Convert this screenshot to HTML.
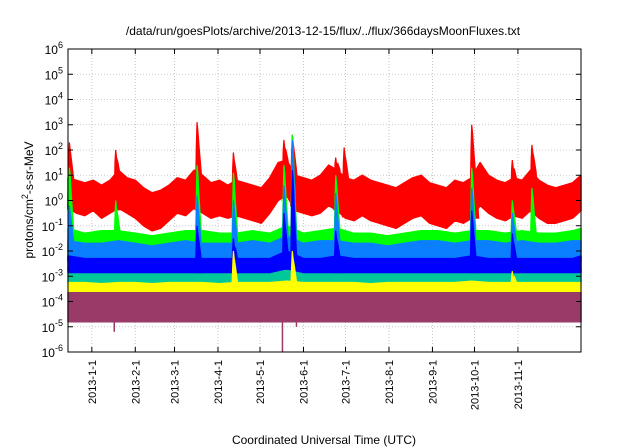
<!DOCTYPE html>
<html><head><meta charset="utf-8"><style>
html,body{margin:0;padding:0;background:#fff;}
svg{display:block;font-family:"Liberation Sans",sans-serif;}
</style></head><body>
<svg id="chart" width="640" height="448" viewBox="0 0 640 448" xmlns="http://www.w3.org/2000/svg">
<text x="323" y="35" font-size="12" text-anchor="middle" fill="#000">/data/run/goesPlots/archive/2013-12-15/flux/../flux/366daysMoonFluxes.txt</text>
<text x="324" y="444" font-size="12" text-anchor="middle" fill="#000">Coordinated Universal Time (UTC)</text>
<text transform="translate(33,200) rotate(-90)" font-size="12" text-anchor="middle" fill="#000">protons/cm<tspan dy="-5" font-size="9">2</tspan><tspan dy="5">-s-sr-MeV</tspan></text>
<g id="grid"></g><g id="series"></g><g id="axes"></g>
</svg>
<script>
const daysF=[-17,-11,-5,1,7,13,19,25,31,37,43,49,55,61,67,73,79,85,91,97,103,109,115,121,127,133,139,145,151,157,163,169,175,181,187,193,199,205,211,217,223,229,235,241,247,253,259,265,271,277,283,289,295,301,307,313,319,325,331,337,343,349];
const redHi=[0.9,0.8,0.7,0.8,0.6,0.8,1.2,0.9,0.8,0.5,0.3,0.4,0.6,0.9,0.8,1.2,1.0,0.7,0.8,0.6,0.8,0.7,0.6,0.5,0.9,1.5,1.6,1.0,0.9,0.8,1.0,1.4,1.2,0.9,0.8,1.0,0.8,0.7,0.6,0.5,0.7,0.9,1.0,0.7,0.6,0.5,0.8,0.7,0.9,1.5,1.0,0.8,0.7,0.9,0.8,1.2,0.8,0.6,0.5,0.6,0.7,1.0];
const redLo=[-0.3,-0.5,-0.6,-0.4,-0.7,-0.5,-0.3,-0.5,-0.7,-1.0,-1.2,-1.1,-0.8,-0.5,-0.6,-0.3,-0.5,-0.7,-0.6,-0.7,-0.6,-0.7,-0.8,-0.9,-0.5,0.0,0.2,-0.4,-0.5,-0.6,-0.5,-0.2,-0.4,-0.7,-0.8,-0.6,-0.8,-0.9,-1.0,-1.1,-0.9,-0.7,-0.6,-0.9,-1.0,-1.1,-0.8,-0.9,-0.7,-0.2,-0.5,-0.7,-0.8,-0.6,-0.7,-0.4,-0.7,-0.9,-0.9,-0.8,-0.7,-0.4];
const daysC=[-17,-5,7,19,31,43,55,67,79,91,103,115,127,139,151,163,175,187,199,211,223,235,247,259,271,283,295,307,319,331,343,349];
const greenHi=[-1.1,-1.3,-1.2,-1.2,-1.3,-1.4,-1.3,-1.2,-1.2,-1.3,-1.3,-1.2,-1.3,-1.0,-1.3,-1.2,-1.1,-1.3,-1.3,-1.4,-1.3,-1.2,-1.2,-1.3,-1.2,-1.2,-1.3,-1.2,-1.3,-1.3,-1.2,-1.1];
const greenLo=[-2.0,-2.0,-2.1,-2.0,-2.0,-2.1,-2.0,-2.0,-2.0,-2.0,-2.1,-2.0,-2.0,-1.8,-2.0,-2.0,-2.0,-2.1,-2.0,-2.1,-2.0,-2.0,-2.0,-2.1,-2.0,-2.0,-2.0,-2.0,-2.1,-2.0,-2.0,-2.0];
const lblueHi=[-1.6,-1.7,-1.7,-1.6,-1.7,-1.8,-1.7,-1.6,-1.7,-1.7,-1.7,-1.6,-1.7,-1.4,-1.7,-1.6,-1.6,-1.7,-1.7,-1.8,-1.7,-1.6,-1.6,-1.7,-1.6,-1.6,-1.7,-1.6,-1.7,-1.7,-1.6,-1.6];
const lblueLo=[-2.4,-2.4,-2.4,-2.4,-2.4,-2.4,-2.4,-2.4,-2.4,-2.4,-2.4,-2.4,-2.4,-2.2,-2.4,-2.4,-2.4,-2.4,-2.4,-2.4,-2.4,-2.4,-2.4,-2.4,-2.4,-2.4,-2.4,-2.4,-2.4,-2.4,-2.4,-2.4];
const blueHi=[-2.2,-2.3,-2.3,-2.3,-2.3,-2.3,-2.3,-2.3,-2.3,-2.3,-2.3,-2.3,-2.3,-2.0,-2.3,-2.3,-2.2,-2.3,-2.3,-2.3,-2.3,-2.3,-2.3,-2.3,-2.2,-2.3,-2.3,-2.3,-2.3,-2.3,-2.3,-2.2];
const blueLo=[-2.85,-2.85,-2.85,-2.85,-2.85,-2.85,-2.85,-2.85,-2.85,-2.85,-2.85,-2.85,-2.85,-2.7,-2.85,-2.85,-2.85,-2.85,-2.85,-2.85,-2.85,-2.85,-2.85,-2.85,-2.85,-2.85,-2.85,-2.85,-2.85,-2.85,-2.85,-2.85];
const tealHi=[-2.6,-2.7,-2.7,-2.7,-2.7,-2.7,-2.7,-2.7,-2.7,-2.7,-2.7,-2.7,-2.7,-2.5,-2.7,-2.7,-2.7,-2.7,-2.7,-2.7,-2.7,-2.7,-2.7,-2.7,-2.6,-2.7,-2.7,-2.7,-2.7,-2.7,-2.7,-2.7];
const tealLo=[-3.3,-3.3,-3.3,-3.3,-3.3,-3.3,-3.3,-3.3,-3.3,-3.3,-3.3,-3.3,-3.3,-3.2,-3.3,-3.3,-3.3,-3.3,-3.3,-3.3,-3.3,-3.3,-3.3,-3.3,-3.3,-3.3,-3.3,-3.3,-3.3,-3.3,-3.3,-3.3];
const yellowHi=[-3.25,-3.25,-3.3,-3.25,-3.25,-3.3,-3.25,-3.25,-3.25,-3.3,-3.25,-3.25,-3.25,-3.2,-3.25,-3.25,-3.25,-3.25,-3.3,-3.25,-3.25,-3.25,-3.25,-3.25,-3.2,-3.25,-3.25,-3.25,-3.25,-3.25,-3.25,-3.25];
const yellowLo=[-3.7,-3.7,-3.7,-3.7,-3.7,-3.7,-3.7,-3.7,-3.7,-3.7,-3.7,-3.7,-3.7,-3.7,-3.7,-3.7,-3.7,-3.7,-3.7,-3.7,-3.7,-3.7,-3.7,-3.7,-3.7,-3.7,-3.7,-3.7,-3.7,-3.7,-3.7,-3.7];
const purpleHi=[-3.65,-3.65,-3.65,-3.65,-3.65,-3.65,-3.65,-3.65,-3.65,-3.65,-3.65,-3.65,-3.65,-3.65,-3.65,-3.65,-3.65,-3.65,-3.65,-3.65,-3.65,-3.65,-3.65,-3.65,-3.65,-3.65,-3.65,-3.65,-3.65,-3.65,-3.65,-3.65];
const purpleLo=[-4.8,-4.8,-4.8,-4.8,-4.8,-4.8,-4.8,-4.8,-4.8,-4.8,-4.8,-4.8,-4.8,-4.8,-4.8,-4.8,-4.8,-4.8,-4.8,-4.8,-4.8,-4.8,-4.8,-4.8,-4.8,-4.8,-4.8,-4.8,-4.8,-4.8,-4.8,-4.8];
const redSpikeDays=[-16,17,75,101,137,143,174,180,271,300,314];
const redSpikePeaks=[2.3,2.0,3.1,1.9,2.4,2.6,1.7,2.1,3.0,1.6,2.2];
const greenSpikeDays=[-16,17,75,101,137,143,174,271,300,314];
const greenSpikePeaks=[1.3,0.0,1.4,1.1,1.4,2.6,1.0,1.3,0.0,0.5];
const lblueSpikeDays=[-16,75,101,137,143,174,271,300];
const lblueSpikePeaks=[-0.2,0.2,0.0,0.6,2.4,0.3,0.5,-0.5];
const blueSpikeDays=[75,101,137,143,174,271,300];
const blueSpikePeaks=[-1.0,-1.5,-0.5,1.2,-1.2,-0.4,-1.3];
const tealSpikeDays=[137,143];
const tealSpikePeaks=[-1.5,-1.0];
const yellowSpikeDays=[101,143,300];
const yellowSpikePeaks=[-2.0,-2.0,-2.8];
const purpleDipDays=[16,136,146];
const purpleDipValues=[-5.2,-6.0,-5.0];
const yTickLabels=["6","5","4","3","2","1","0","-1","-2","-3","-4","-5","-6"];
const xTickDays=[0,31,59,90,120,151,181,212,243,273,304];
const xTickLabels=["2013-1-1","2013-2-1","2013-3-1","2013-4-1","2013-5-1","2013-6-1","2013-7-1","2013-8-1","2013-9-1","2013-10-1","2013-11-1"];

const L=68,R=581,T=49,B=352,D0=-17,D1=349,YMAX=6,YMIN=-6;
const xs=d=>L+(d-D0)/(D1-D0)*(R-L);
const ys=v=>T+(YMAX-v)/(YMAX-YMIN)*(B-T);
const NS="http://www.w3.org/2000/svg";
function mk(tag,attrs,parent){const e=document.createElementNS(NS,tag);for(const k in attrs)e.setAttribute(k,attrs[k]);parent.appendChild(e);return e;}
const grid=document.getElementById('grid'),ser=document.getElementById('series'),axes=document.getElementById('axes');
function interp(days,vals,d){if(d<=days[0])return vals[0];for(let i=1;i<days.length;i++){if(d<=days[i]){const t=(d-days[i-1])/(days[i]-days[i-1]);return vals[i-1]+t*(vals[i]-vals[i-1]);}}return vals[vals.length-1];}
function band(days,hi,lo,color,name){
  let p=days.map((d,i)=>xs(d).toFixed(1)+','+ys(hi[i]).toFixed(1));
  for(let i=days.length-1;i>=0;i--)p.push(xs(days[i]).toFixed(1)+','+ys(lo[i]).toFixed(1));
  const e=mk('polygon',{points:p.join(' '),fill:color,stroke:color,'stroke-width':1.5,'stroke-linejoin':'round'},ser);
  
  
}
function spikes(days,hi,lo,sd,sp,color,name){
  sd.forEach((d,i)=>{
    const b=interp(days,lo,d),h=interp(days,hi,d);
    const pk=sp[i];
    const pts=[[d-1.2,b],[d-0.5,(h+pk)/2],[d,pk],[d+0.6,pk-0.3],[d+1.5,(h+pk)/2],[d+3,h],[d+5,b]];
    const e=mk('polygon',{points:pts.map(q=>xs(q[0]).toFixed(1)+','+ys(q[1]).toFixed(1)).join(' '),fill:color,stroke:color,'stroke-width':1.2},ser);
    
    
  });
}
// grid
for(let v=YMIN;v<=YMAX;v++){const e=mk('line',{x1:L,x2:R,y1:ys(v),y2:ys(v),stroke:'#bbb','stroke-width':0.8,'stroke-dasharray':'1,2'},grid);
  
  }
xTickDays.forEach(d=>{const e=mk('line',{x1:xs(d),x2:xs(d),y1:T,y2:B,stroke:'#bbb','stroke-width':0.8,'stroke-dasharray':'1,2'},grid);
  
  });
// series
band(daysF,redHi,redLo,'#ff0000','red-series');spikes(daysF,redHi,redLo,redSpikeDays,redSpikePeaks,'#ff0000','red-series');
band(daysC,greenHi,greenLo,'#00ff00','green-series');spikes(daysC,greenHi,greenLo,greenSpikeDays,greenSpikePeaks,'#00ff00','green-series');
band(daysC,lblueHi,lblueLo,'#0a7fff','lightblue-series');spikes(daysC,lblueHi,lblueLo,lblueSpikeDays,lblueSpikePeaks,'#0a7fff','lightblue-series');
band(daysC,tealHi,tealLo,'#00c89a','teal-series');spikes(daysC,tealHi,tealLo,tealSpikeDays,tealSpikePeaks,'#00c89a','teal-series');
band(daysC,blueHi,blueLo,'#0000ff','blue-series');spikes(daysC,blueHi,blueLo,blueSpikeDays,blueSpikePeaks,'#0000ff','blue-series');
band(daysC,yellowHi,yellowLo,'#ffff00','yellow-series');spikes(daysC,yellowHi,yellowLo,yellowSpikeDays,yellowSpikePeaks,'#ffff00','yellow-series');
band(daysC,purpleHi,purpleLo,'#9a3a68','purple-series');
purpleDipDays.forEach((d,i)=>{const e=mk('line',{x1:xs(d),x2:xs(d),y1:ys(interp(daysC,purpleLo,d)),y2:ys(purpleDipValues[i]),stroke:'#9a3a68','stroke-width':1.5},ser);
  
  });
// axes
const fr=mk('rect',{x:L,y:T,width:R-L,height:B-T,fill:'none',stroke:'#000','stroke-width':1},axes);


yTickLabels.forEach((lab,i)=>{const v=YMAX-i;const y=ys(v);
  mk('line',{x1:L,x2:L+5,y1:y,y2:y,stroke:'#000'},axes);mk('line',{x1:R-5,x2:R,y1:y,y2:y,stroke:'#000'},axes);
  const t=mk('text',{x:L-5,y:y+5,'font-size':12,'text-anchor':'end',fill:'#000'},axes);
  
  
  t.appendChild(document.createTextNode('10'));const s=mk('tspan',{dy:-6,'font-size':9},t);s.textContent=lab;
  const s2=mk('tspan',{x:L-5,dy:0},t);
});
xTickDays.forEach((d,i)=>{const x=xs(d);
  mk('line',{x1:x,x2:x,y1:B,y2:B-5,stroke:'#000'},axes);mk('line',{x1:x,x2:x,y1:T,y2:T+5,stroke:'#000'},axes);
  const t=mk('text',{transform:`translate(${(x+4).toFixed(1)},360) rotate(-90)`,'font-size':11,'text-anchor':'end',fill:'#000'},axes);
  
  
  t.textContent=xTickLabels[i];
});
</script>
</body></html>
